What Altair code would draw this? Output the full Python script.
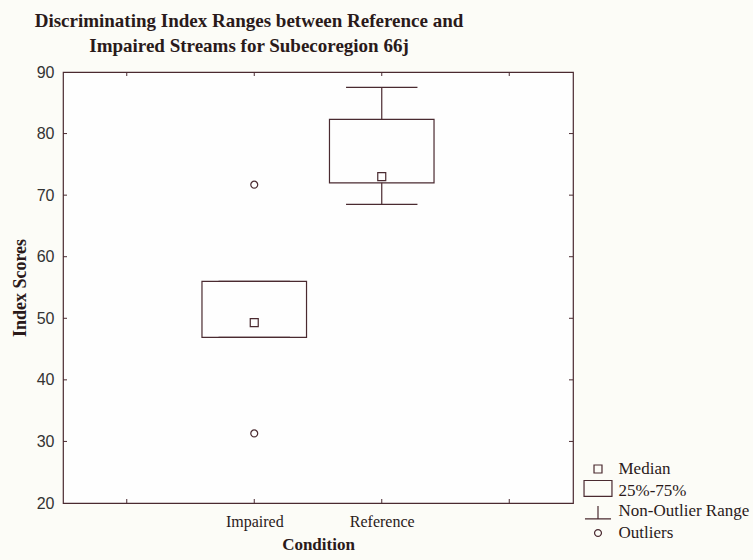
import altair as alt
import pandas as pd
import json

# ---- data ----
conditions = ["Impaired", "Reference"]
q1 = [46.9, 72.0]
q3 = [56.0, 82.3]
medians = [49.3, 73.0]
whisker_lo = [46.9, 68.5]
whisker_hi = [56.0, 87.5]
outlier_cond = ["Impaired", "Impaired"]
outlier_vals = [71.7, 31.3]

x_ticks = [0.5, 1.5, 2.5, 3.5]
y_ticks = [30, 40, 50, 60, 70, 80]
legend_labels = ["Median", "25%-75%", "Non-Outlier Range", "Outliers"]

INK = "#4a2a30"
TEXT = "#2a1a1a"
W, H = 510, 431

box_df = pd.DataFrame({"cond": conditions, "q1": q1, "q3": q3, "med": medians,
                       "lo": whisker_lo, "hi": whisker_hi})
pts_df = pd.DataFrame({
    "cond": conditions + outlier_cond,
    "val": medians + outlier_vals,
    "kind": ["Median"] * len(conditions) + ["Outliers"] * len(outlier_cond),
})
xt_df = pd.DataFrame({"v": x_ticks})
yt_df = pd.DataFrame({"v": y_ticks})

pos_expr = "indexof(%s, datum.cond) + 1.5" % json.dumps(conditions)

xscale = alt.Scale(domain=[0, 4], nice=False, zero=False)
yscale = alt.Scale(domain=[20, 90], nice=False, zero=False)

xaxis = alt.Axis(values=x_ticks, ticks=False, domain=False, grid=False,
                 labelExpr="datum.value == 1.5 ? 'Impaired' : datum.value == 2.5 ? 'Reference' : ''",
                 labelFont="Liberation Serif", labelFontSize=16, labelColor=TEXT,
                 labelPadding=10, title="Condition", titleFont="Liberation Serif",
                 titleFontSize=17, titleFontWeight="bold", titleColor=TEXT, titlePadding=7)
yaxis = alt.Axis(values=[20, 30, 40, 50, 60, 70, 80, 90], ticks=False, domain=False, grid=False,
                 labelFont="Liberation Sans", labelFontSize=16, labelColor="#333333",
                 labelPadding=9, title="Index Scores", titleFont="Liberation Serif",
                 titleFontSize=18, titleFontWeight="bold", titleColor=TEXT, titlePadding=7)

base = alt.Chart(box_df).transform_calculate(pos=pos_expr).transform_calculate(
    left="datum.pos - 0.41", right="datum.pos + 0.41",
    capl="datum.pos - 0.28", capr="datum.pos + 0.28")

box = base.mark_rect(fill="white", fillOpacity=0, stroke=INK, strokeWidth=1.2).encode(
    x=alt.X("left:Q", scale=xscale, axis=xaxis),
    x2="right:Q",
    y=alt.Y("q1:Q", scale=yscale, axis=yaxis),
    y2="q3:Q",
)
wh_up = base.mark_rule(color=INK, strokeWidth=1.2).encode(x="pos:Q", y="q3:Q", y2="hi:Q")
wh_dn = base.mark_rule(color=INK, strokeWidth=1.2).encode(x="pos:Q", y="lo:Q", y2="q1:Q")
cap_up = base.mark_rule(color=INK, strokeWidth=1.2).encode(x="capl:Q", x2="capr:Q", y="hi:Q")
cap_dn = base.mark_rule(color=INK, strokeWidth=1.2).encode(x="capl:Q", x2="capr:Q", y="lo:Q")

shape_range = [
    "M-0.38,-0.38H0.38V0.38H-0.38Z",
    "M-1.33,-1.0H1.33V0.52H-1.33Z",
    "M0,-0.48V0.75M-1.24,0.75H1.24",
    "M0.33,0A0.33,0.33 0 1,1 -0.33,0A0.33,0.33 0 1,1 0.33,0Z",
]

points = alt.Chart(pts_df).transform_calculate(pos=pos_expr).mark_point(
    filled=False, stroke=INK, strokeWidth=1.2, size=441, opacity=1).encode(
    x="pos:Q",
    y="val:Q",
    shape=alt.Shape("kind:N", scale=alt.Scale(domain=legend_labels, range=shape_range),
                    legend=alt.Legend(title=None, orient="none", legendX=523.5, legendY=385.5,
                                      symbolSize=441, symbolStrokeColor=INK,
                                      symbolFillColor="transparent", symbolStrokeWidth=1.2,
                                      labelFont="Liberation Serif", labelFontSize=17,
                                      labelColor=TEXT, labelOffset=9, rowPadding=0,
                                      padding=0, labelLimit=200)),
)

tick_b = alt.Chart(xt_df).mark_rule(color=INK).encode(x="v:Q", y=alt.value(H), y2=alt.value(H - 4))
tick_t = alt.Chart(xt_df).mark_rule(color=INK).encode(x="v:Q", y=alt.value(0), y2=alt.value(4))
tick_l = alt.Chart(yt_df).mark_rule(color=INK).encode(y="v:Q", x=alt.value(0), x2=alt.value(4))
tick_r = alt.Chart(yt_df).mark_rule(color=INK).encode(y="v:Q", x=alt.value(W), x2=alt.value(W - 4))

chart = alt.layer(box, wh_up, wh_dn, cap_up, cap_dn, points, tick_b, tick_t, tick_l, tick_r).properties(
    width=W, height=H,
    title=alt.TitleParams(
        text=["Discriminating Index Ranges between Reference and",
              "Impaired Streams for Subecoregion 66j"],
        font="Liberation Serif", fontSize=19, fontWeight="bold", color=TEXT,
        anchor="middle", dx=-69, offset=8, lineHeight=25),
    autosize=alt.AutoSizeParams(type="none"),
    padding={"left": 63, "top": 72, "right": 180, "bottom": 57},
    background="#fcfcf7",
).configure_view(stroke=INK, strokeWidth=1.2, fill="#fefefe")

chart.save("out.html", embed_options={"renderer": "svg", "actions": False})
